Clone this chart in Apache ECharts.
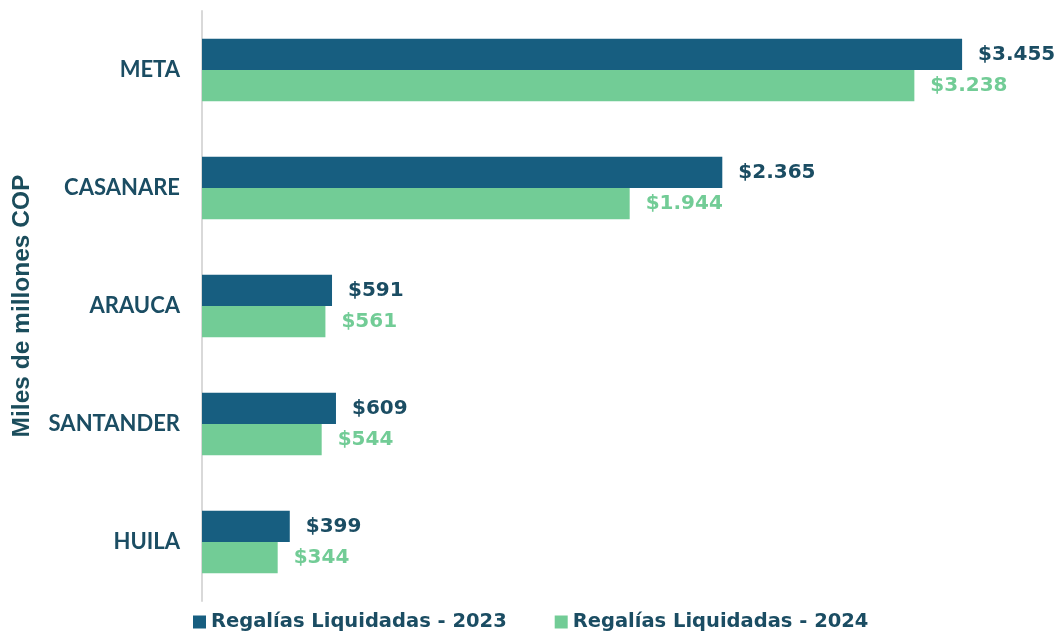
<!DOCTYPE html>
<html>
<head>
<meta charset="utf-8">
<script src="https://cdn.jsdelivr.net/npm/echarts@6/dist/echarts.min.js"></script>
<style>
  html, body { margin: 0; padding: 0; background: #ffffff; }
  #chart { width: 1061px; height: 633px; }
</style>
</head>
<body>
<div id="chart"></div>
<script>
const departamentos = ['META', 'CASANARE', 'ARAUCA', 'SANTANDER', 'HUILA'];
const regalias2023 = [3455, 2365, 591, 609, 399];
const regalias2024 = [3238, 1944, 561, 544, 344];
const serieNombres = ['Regalías Liquidadas - 2023', 'Regalías Liquidadas - 2024'];
const ejeTitulo = 'Miles de millones COP';

const azul = '#175e80';
const verde = '#72cc96';
const textoOscuro = '#1b4d63';

function pesos(v) {
  return '$' + String(v).replace(/\B(?=(\d{3})+(?!\d))/g, '.');
}

const chart = echarts.init(document.getElementById('chart'));
chart.setOption({
  animation: false,
  grid: { left: 202, top: 11, width: 836, height: 590, containLabel: false },
  xAxis: {
    type: 'value', min: 0, max: 3800,
    show: false
  },
  yAxis: {
    type: 'category',
    data: departamentos,
    inverse: true,
    axisLine: { show: true, lineStyle: { color: '#d9d9d9', width: 2 } },
    axisTick: { show: false },
    axisLabel: {
      color: textoOscuro, fontFamily: 'Lato', fontWeight: 'bold', fontSize: 22, margin: 22
    },
    name: ejeTitulo,
    nameLocation: 'middle',
    nameRotate: 90,
    nameGap: 167,
    nameTextStyle: { color: '#1b4d5c', fontFamily: 'Liberation Sans, Arial, sans-serif', fontWeight: 'bold', fontSize: 24.5 }
  },
  legend: {
    top: 607, left: 188,
    itemWidth: 13, itemHeight: 13, itemGap: 48,
    icon: 'rect',
    textStyle: { color: textoOscuro, fontFamily: 'DejaVu Sans', fontWeight: 'bold', fontSize: 19.5 },
    data: serieNombres
  },
  series: [
    {
      name: serieNombres[0], type: 'bar', data: regalias2023,
      itemStyle: { color: azul },
      barGap: '0%', barCategoryGap: '47%',
      label: {
        show: true, position: 'right', distance: 16,
        color: textoOscuro, fontFamily: 'DejaVu Sans', fontWeight: 'bold', fontSize: 20,
        formatter: p => pesos(p.value)
      }
    },
    {
      name: serieNombres[1], type: 'bar', data: regalias2024,
      itemStyle: { color: verde },
      barGap: '0%', barCategoryGap: '47%',
      label: {
        show: true, position: 'right', distance: 16,
        color: verde, fontFamily: 'DejaVu Sans', fontWeight: 'bold', fontSize: 20,
        formatter: p => pesos(p.value)
      }
    }
  ]
});
</script>
</body>
</html>
